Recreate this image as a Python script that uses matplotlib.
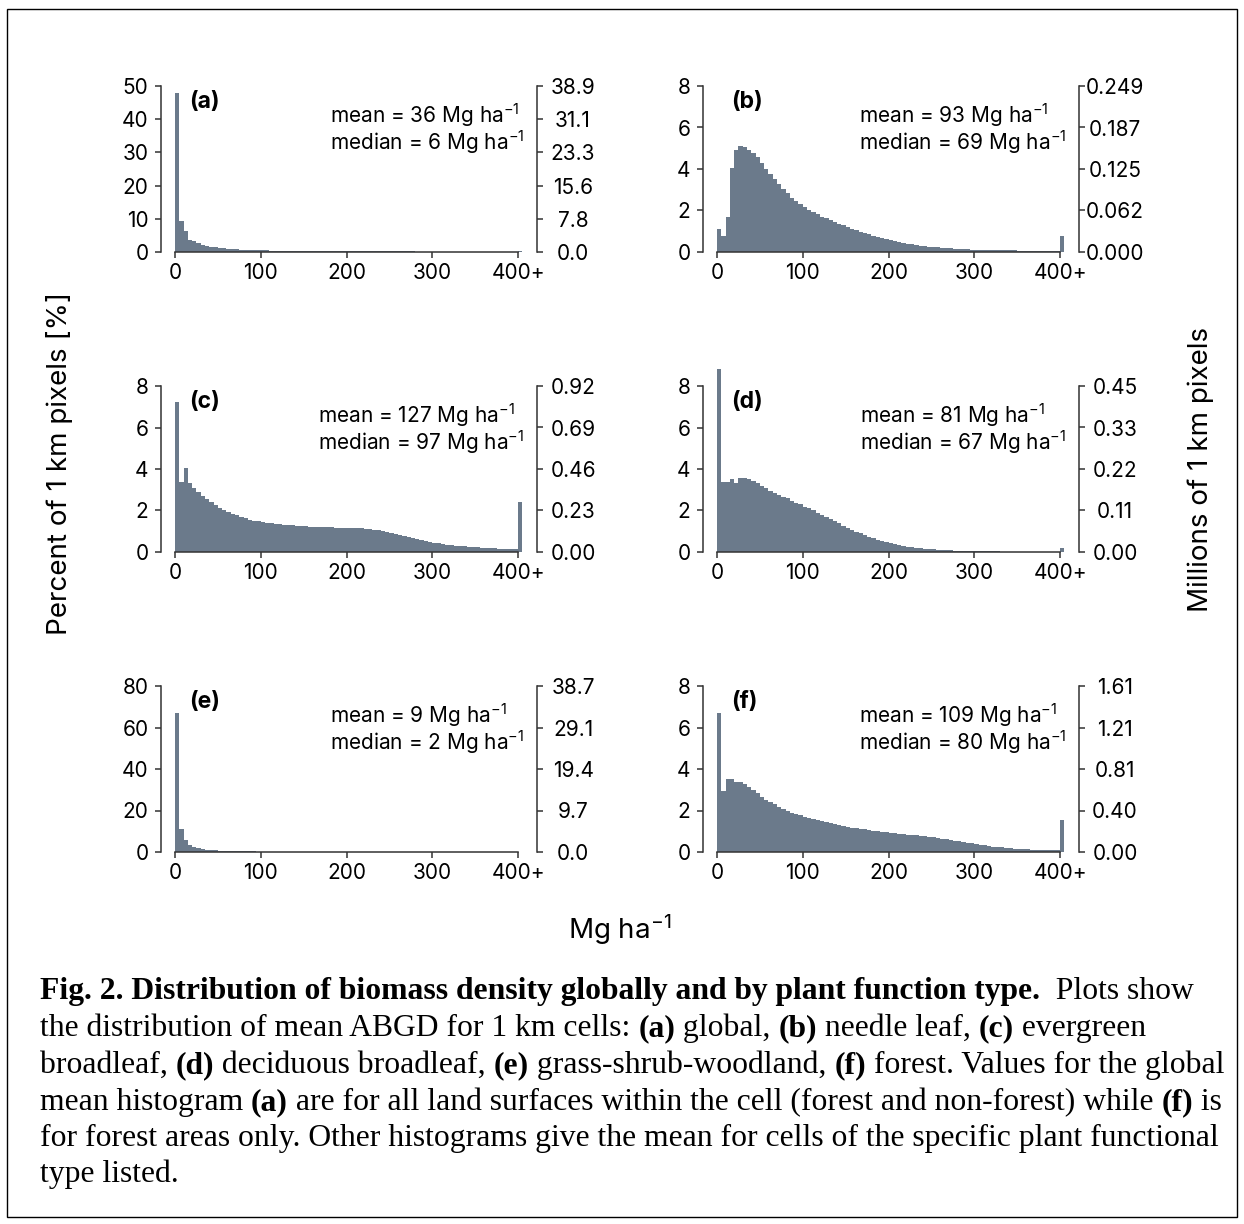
import numpy as np
import matplotlib
matplotlib.use('Agg')
import matplotlib.pyplot as plt
from matplotlib.patches import Rectangle

# ---------------- data ----------------
bin_edges = np.arange(0, 410, 5)          # 81 bins of 5 Mg/ha, last one is "400+"
x_ticks = [0, 100, 200, 300, 400]
x_ticklabels = ['0', '100', '200', '300', '400+']

panel_labels = ['(a)', '(b)', '(c)', '(d)', '(e)', '(f)']
mean_vals = [36, 93, 127, 81, 9, 109]
median_vals = [6, 69, 97, 67, 2, 80]

left_ticks_a = [0, 10, 20, 30, 40, 50]
left_ticks_b = [0, 2, 4, 6, 8]
left_ticks_c = [0, 2, 4, 6, 8]
left_ticks_d = [0, 2, 4, 6, 8]
left_ticks_e = [0, 20, 40, 60, 80]
left_ticks_f = [0, 2, 4, 6, 8]

right_labels_a = ['0.0', '7.8', '15.6', '23.3', '31.1', '38.9']
right_labels_b = ['0.000', '0.062', '0.125', '0.187', '0.249']
right_labels_c = ['0.00', '0.23', '0.46', '0.69', '0.92']
right_labels_d = ['0.00', '0.11', '0.22', '0.33', '0.45']
right_labels_e = ['0.0', '9.7', '19.4', '29.1', '38.7']
right_labels_f = ['0.00', '0.40', '0.81', '1.21', '1.61']

pct_a = [47.9, 9.2, 6.4, 3.5, 3.2, 2.6, 2.2, 1.9, 1.6, 1.4,
         1.25, 1.1, 1.0, 0.9, 0.82, 0.75, 0.68, 0.62, 0.57, 0.52,
         0.49, 0.46, 0.44, 0.42, 0.40, 0.39, 0.37, 0.36, 0.35, 0.34,
         0.33, 0.32, 0.31, 0.30, 0.29, 0.28, 0.27, 0.26, 0.25, 0.24,
         0.24, 0.23, 0.22, 0.22, 0.21, 0.21, 0.20, 0.20, 0.19, 0.19,
         0.18, 0.18, 0.17, 0.17, 0.16, 0.16, 0.15, 0.15, 0.14, 0.14,
         0.13, 0.13, 0.12, 0.12, 0.11, 0.11, 0.10, 0.10, 0.10, 0.09,
         0.09, 0.09, 0.08, 0.08, 0.08, 0.07, 0.07, 0.07, 0.06, 0.06,
         0.40]
pct_b = [1.10, 0.75, 1.71, 4.03, 4.91, 5.10, 5.04, 4.91, 4.75, 4.59,
         4.27, 3.98, 3.76, 3.50, 3.26, 3.06, 2.83, 2.62, 2.46, 2.30,
         2.16, 2.03, 1.92, 1.82, 1.71, 1.62, 1.52, 1.44, 1.36, 1.28,
         1.20, 1.12, 1.04, 0.98, 0.91, 0.85, 0.78, 0.72, 0.67, 0.62,
         0.56, 0.51, 0.48, 0.43, 0.40, 0.37, 0.34, 0.30, 0.27, 0.26,
         0.24, 0.22, 0.20, 0.19, 0.17, 0.16, 0.15, 0.14, 0.13, 0.12,
         0.115, 0.11, 0.10, 0.10, 0.095, 0.09, 0.085, 0.08, 0.08, 0.075,
         0.07, 0.07, 0.065, 0.065, 0.06, 0.06, 0.055, 0.055, 0.05, 0.05,
         0.75]
pct_c = [7.23, 3.39, 4.03, 3.34, 3.07, 2.88, 2.72, 2.54, 2.42, 2.27,
         2.14, 2.03, 1.94, 1.84, 1.76, 1.68, 1.62, 1.55, 1.50, 1.47,
         1.44, 1.41, 1.38, 1.34, 1.33, 1.31, 1.30, 1.28, 1.26, 1.25,
         1.23, 1.22, 1.21, 1.20, 1.20, 1.19, 1.19, 1.18, 1.18, 1.18,
         1.18, 1.17, 1.16, 1.15, 1.13, 1.11, 1.08, 1.04, 1.00, 0.96,
         0.91, 0.86, 0.81, 0.76, 0.71, 0.66, 0.62, 0.57, 0.53, 0.49,
         0.45, 0.42, 0.39, 0.36, 0.33, 0.31, 0.29, 0.27, 0.25, 0.23,
         0.22, 0.21, 0.19, 0.18, 0.17, 0.16, 0.15, 0.15, 0.14, 0.13,
         2.40]
pct_d = [8.80, 3.39, 3.39, 3.50, 3.31, 3.55, 3.55, 3.52, 3.42, 3.31,
         3.20, 3.07, 2.96, 2.86, 2.77, 2.67, 2.58, 2.48, 2.38, 2.29,
         2.19, 2.10, 2.00, 1.90, 1.79, 1.70, 1.58, 1.47, 1.38, 1.26,
         1.17, 1.07, 0.98, 0.90, 0.82, 0.74, 0.66, 0.59, 0.53, 0.46,
         0.42, 0.37, 0.32, 0.29, 0.26, 0.22, 0.19, 0.18, 0.16, 0.14,
         0.13, 0.11, 0.10, 0.09, 0.08, 0.07, 0.06, 0.055, 0.05, 0.045,
         0.04, 0.035, 0.03, 0.03, 0.025, 0.025, 0.02, 0.02, 0.02, 0.015,
         0.015, 0.015, 0.01, 0.01, 0.01, 0.01, 0.01, 0.01, 0.01, 0.01,
         0.19]
pct_e = [67.0, 11.2, 5.9, 3.5, 2.6, 1.9, 1.4, 1.1, 0.9, 0.8,
         0.70, 0.60, 0.50, 0.45, 0.40, 0.35, 0.30, 0.28, 0.25, 0.22,
         0.20, 0.18, 0.17, 0.16, 0.15, 0.14, 0.13, 0.12, 0.11, 0.10,
         0.10, 0.09, 0.09, 0.08, 0.08, 0.07, 0.07, 0.06, 0.06, 0.06,
         0.05, 0.05, 0.05, 0.04, 0.04, 0.04, 0.04, 0.03, 0.03, 0.03,
         0.03, 0.03, 0.03, 0.02, 0.02, 0.02, 0.02, 0.02, 0.02, 0.02,
         0.02, 0.02, 0.02, 0.02, 0.02, 0.01, 0.01, 0.01, 0.01, 0.01,
         0.01, 0.01, 0.01, 0.01, 0.01, 0.01, 0.01, 0.01, 0.01, 0.01,
         0.05]
pct_f = [6.72, 2.96, 3.50, 3.50, 3.39, 3.39, 3.28, 3.15, 2.99, 2.83,
         2.67, 2.51, 2.40, 2.29, 2.18, 2.06, 1.97, 1.89, 1.82, 1.76,
         1.70, 1.65, 1.58, 1.54, 1.49, 1.44, 1.39, 1.34, 1.30, 1.26,
         1.22, 1.18, 1.15, 1.12, 1.09, 1.06, 1.02, 0.99, 0.98, 0.94,
         0.93, 0.91, 0.88, 0.86, 0.83, 0.82, 0.80, 0.77, 0.75, 0.72,
         0.70, 0.67, 0.64, 0.61, 0.58, 0.54, 0.51, 0.48, 0.45, 0.42,
         0.38, 0.35, 0.32, 0.29, 0.26, 0.24, 0.22, 0.20, 0.18, 0.16,
         0.15, 0.14, 0.13, 0.12, 0.11, 0.10, 0.10, 0.09, 0.09, 0.08,
         1.55]

all_pct = [pct_a, pct_b, pct_c, pct_d, pct_e, pct_f]
all_left = [left_ticks_a, left_ticks_b, left_ticks_c, left_ticks_d, left_ticks_e, left_ticks_f]
all_right = [right_labels_a, right_labels_b, right_labels_c, right_labels_d, right_labels_e, right_labels_f]

caption_lines = [
    [("Fig. 2. Distribution of biomass density globally and by plant function type.", True), ("  Plots show", False)],
    [("the distribution of mean ABGD for 1 km cells: ", False), ("(a)", True), (" global, ", False), ("(b)", True),
     (" needle leaf, ", False), ("(c)", True), (" evergreen", False)],
    [("broadleaf, ", False), ("(d)", True), (" deciduous broadleaf, ", False), ("(e)", True),
     (" grass-shrub-woodland, ", False), ("(f)", True), (" forest. Values for the global", False)],
    [("mean histogram ", False), ("(a)", True), (" are for all land surfaces within the cell (forest and non-forest) while ", False),
     ("(f)", True), (" is", False)],
    [("for forest areas only. Other histograms give the mean for cells of the specific plant functional", False)],
    [("type listed.", False)],
]

# ---------------- style ----------------
W, H = 1244, 1224
SANS = 'Inter'
plt.rcParams['font.family'] = [SANS, 'DejaVu Sans']
plt.rcParams['mathtext.fontset'] = 'custom'
plt.rcParams['mathtext.rm'] = SANS
plt.rcParams['mathtext.it'] = SANS + ':italic'
plt.rcParams['mathtext.bf'] = SANS + ':bold'
FS = 15
LAB_FS = 20
BAR = '#6b7a8b'
SPINE = '#333333'
LW = 1.1

fig = plt.figure(figsize=(W / 100, H / 100), dpi=100)
renderer = fig.canvas.get_renderer()

cols = [(161, 537), (703, 1079)]
rows = [(86, 252), (386, 552), (686, 852)]

for i in range(6):
    r, c = divmod(i, 2)
    l, rr = cols[c]
    t, b = rows[r]
    ax = fig.add_axes([l / W, 1 - b / H, (rr - l) / W, (b - t) / H])
    ticks = all_left[i]
    ymax = ticks[-1]
    st = ax.stairs(all_pct[i], bin_edges, fill=True, color=BAR, linewidth=0)
    st.set_clip_on(False)
    ax.set_xlim(-16.3, 422)
    ax.set_ylim(0, ymax)
    ax.set_facecolor('none')

    ax.spines['top'].set_visible(False)
    ax.spines['right'].set_visible(False)
    ax.spines['left'].set_bounds(0, ymax)
    ax.spines['bottom'].set_bounds(0, 400)
    for s in ['left', 'bottom']:
        ax.spines[s].set_color(SPINE)
        ax.spines[s].set_linewidth(LW)

    ax.set_xticks(x_ticks)
    ax.set_xticklabels(x_ticklabels)
    ax.set_yticks(ticks)
    ax.set_yticklabels([str(v) for v in ticks])
    ax.tick_params(axis='both', direction='out', length=4, width=LW, color=SPINE,
                   labelsize=FS, labelcolor='black')
    ax.tick_params(axis='x', pad=4)
    ax.tick_params(axis='y', pad=5)

    ax2 = ax.twinx()
    ax2.set_ylim(0, ymax)
    for s in ['top', 'left', 'bottom']:
        ax2.spines[s].set_visible(False)
    ax2.spines['right'].set_bounds(0, ymax)
    ax2.spines['right'].set_color(SPINE)
    ax2.spines['right'].set_linewidth(LW)
    ax2.set_yticks(ticks)
    ax2.set_yticklabels(all_right[i])
    ax2.tick_params(axis='y', direction='out', length=4, width=LW, color=SPINE,
                    labelsize=FS, pad=22)
    for lab in ax2.get_yticklabels():
        lab.set_horizontalalignment('center')

    ax.text(0.075, 0.906, panel_labels[i], transform=ax.transAxes, fontsize=16.5,
            fontweight='bold', ha='left', va='center')

    # legend-like stats block: lines left aligned, block right aligned
    t1 = ax.text(0, 0.775, 'mean = %d Mg ha$^{-1}$' % mean_vals[i], transform=ax.transAxes,
                 fontsize=FS, ha='left', va='baseline')
    t2 = ax.text(0, 0.614, 'median = %d Mg ha$^{-1}$' % median_vals[i], transform=ax.transAxes,
                 fontsize=FS, ha='left', va='baseline')
    wmax = max(t1.get_window_extent(renderer).width, t2.get_window_extent(renderer).width)
    right_px = l + 0.967 * (rr - l)
    x_left = (right_px - wmax - l) / (rr - l)
    t1.set_x(x_left)
    t2.set_x(x_left)

fig.text(60 / W, 1 - 463 / H, 'Percent of 1 km pixels [%]', rotation=90,
         ha='center', va='center', fontsize=LAB_FS)
fig.text(1201 / W, 1 - 469 / H, 'Millions of 1 km pixels', rotation=90,
         ha='center', va='center', fontsize=LAB_FS)
fig.text(620 / W, 1 - 930 / H, 'Mg ha$^{-1}$', ha='center', va='center', fontsize=LAB_FS)

# caption
CAP_FS = 22.8
baselines = [999, 1036, 1073, 1110, 1146, 1182]
for line, yb in zip(caption_lines, baselines):
    x = 40
    for txt, bold in line:
        tt = fig.text(x / W, 1 - yb / H, txt, fontsize=CAP_FS, family='Liberation Serif',
                      fontweight='bold' if bold else 'normal', ha='left', va='baseline')
        bb = tt.get_window_extent(renderer=renderer)
        x += bb.width

fig.patches.append(Rectangle((7 / W, 1 - 1217 / H), (1237 - 7) / W, (1217 - 9) / H,
                             transform=fig.transFigure, fill=False, edgecolor='black',
                             linewidth=1.0))

fig.savefig('out.png', dpi=100)
